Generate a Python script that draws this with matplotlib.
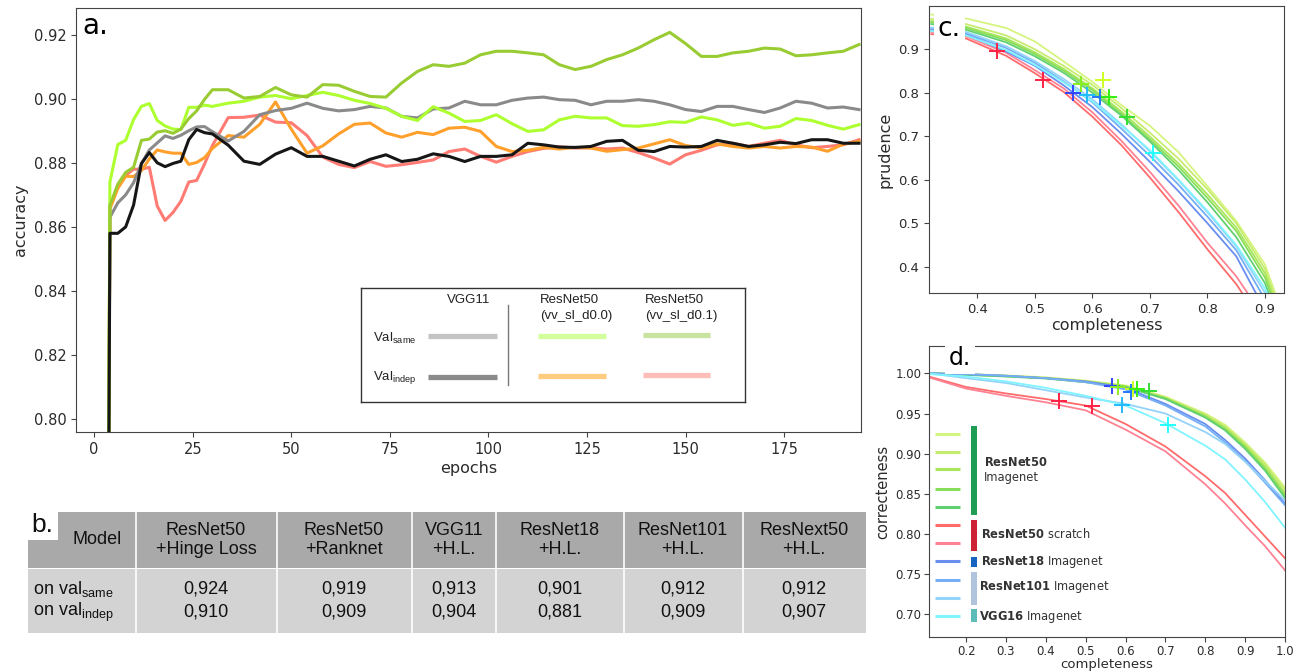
import matplotlib.pyplot as plt
from matplotlib.patches import Rectangle

plt.rcParams['mathtext.fontset'] = 'custom'
plt.rcParams['mathtext.rm'] = 'Liberation Sans'
plt.rcParams['mathtext.bf'] = 'DejaVu Sans:bold'
plt.rcParams['axes.edgecolor'] = '#444444'
plt.rcParams['xtick.color'] = '#444444'
plt.rcParams['ytick.color'] = '#444444'
plt.rcParams['xtick.labelcolor'] = '#2b2b2b'
plt.rcParams['ytick.labelcolor'] = '#2b2b2b'
plt.rcParams['axes.labelcolor'] = '#2b2b2b'

# ---------------- panel a: accuracy per epoch ----------------
epochs = [3, 4] + list(range(6, 31, 2)) + list(range(34, 195, 4))

vgg_same = [0.60,
            0.863, 0.8675, 0.870, 0.8738, 0.8797, 0.884, 0.8862, 0.8884, 0.8876, 0.8886, 0.890, 0.8912, 0.8913, 0.8897,
            0.8868, 0.8898, 0.895, 0.8963, 0.897, 0.8986, 0.897, 0.8962, 0.8966, 0.8976, 0.8971, 0.8945, 0.894, 0.8968, 0.8971,
            0.8992, 0.8981, 0.8981, 0.8995, 0.9002, 0.9005, 0.8997, 0.8995, 0.8981, 0.8992, 0.8992, 0.8997, 0.8992,
            0.8981, 0.8966, 0.896, 0.8976, 0.8976, 0.8966, 0.8957, 0.8971, 0.8992, 0.8986, 0.8971, 0.8974, 0.8966]
vgg_indep = [0.60,
             0.858, 0.858, 0.860, 0.8668, 0.8798, 0.8832, 0.880, 0.8788, 0.8798, 0.8805, 0.8872, 0.8904, 0.8894, 0.889,
             0.8855, 0.8805, 0.8795, 0.8827, 0.8847, 0.882, 0.882, 0.8805, 0.879, 0.8811, 0.8825, 0.8804, 0.8811, 0.8828, 0.882,
             0.8804, 0.882, 0.882, 0.8825, 0.8861, 0.8856, 0.8849, 0.8848, 0.8851, 0.8867, 0.887, 0.8839, 0.8835,
             0.8851, 0.8849, 0.8851, 0.887, 0.8861, 0.8851, 0.8856, 0.8864, 0.886, 0.8872, 0.8872, 0.8861, 0.8861]
r50_d00_same = [0.60,
                0.874, 0.8857, 0.887, 0.8935, 0.8976, 0.8985, 0.8932, 0.8915, 0.8905, 0.8904, 0.8973, 0.8973, 0.898, 0.8976,
                0.8986, 0.8992, 0.9005, 0.901, 0.900, 0.901, 0.902, 0.901, 0.8995, 0.8985, 0.897, 0.8945, 0.8932, 0.8975, 0.8955,
                0.8929, 0.8932, 0.895, 0.8922, 0.8898, 0.8903, 0.8934, 0.8945, 0.894, 0.894, 0.8916, 0.8914, 0.8919,
                0.8928, 0.8926, 0.8943, 0.8934, 0.8917, 0.8924, 0.8908, 0.8914, 0.8938, 0.8932, 0.8917, 0.8905, 0.8919]
r50_d01_same = [0.60,
                0.8667, 0.8733, 0.877, 0.8786, 0.887, 0.8874, 0.8896, 0.890, 0.8892, 0.8905, 0.8938, 0.8962, 0.8998, 0.9028,
                0.9028, 0.9002, 0.9007, 0.9035, 0.9012, 0.9005, 0.9044, 0.9042, 0.9023, 0.9007, 0.9005, 0.9049, 0.9085, 0.9106, 0.9101,
                0.9111, 0.9137, 0.9148, 0.9148, 0.9143, 0.9137, 0.9106, 0.9091, 0.9101, 0.9122, 0.9137, 0.9158, 0.9184,
                0.9207, 0.9172, 0.9132, 0.9132, 0.9143, 0.9148, 0.9158, 0.9155, 0.9134, 0.9137, 0.9143, 0.9148, 0.9169]
r50_d00_indep = [0.60,
                 0.8656, 0.872, 0.8758, 0.8757, 0.8776, 0.8812, 0.884, 0.8834, 0.883, 0.883, 0.8795, 0.8801, 0.8816, 0.8845,
                 0.8885, 0.888, 0.892, 0.899, 0.8905, 0.883, 0.8853, 0.889, 0.892, 0.8924, 0.8893, 0.888, 0.8895, 0.8888, 0.8908,
                 0.8911, 0.8898, 0.8851, 0.8835, 0.8839, 0.8848, 0.8843, 0.8848, 0.8846, 0.8836, 0.8841, 0.8846, 0.8859,
                 0.8872, 0.8854, 0.8846, 0.8859, 0.8851, 0.8846, 0.8851, 0.8846, 0.8851, 0.8849, 0.8836, 0.8858, 0.8867]
r50_d01_indep = [0.60,
                 0.8662, 0.873, 0.8761, 0.878, 0.878, 0.8786, 0.8665, 0.862, 0.8645, 0.868, 0.874, 0.8745, 0.8796, 0.8854,
                 0.8941, 0.8942, 0.8949, 0.8927, 0.8925, 0.8885, 0.8818, 0.8795, 0.8785, 0.8804, 0.8789, 0.8794, 0.8801, 0.8809, 0.8835,
                 0.8843, 0.882, 0.8802, 0.882, 0.8835, 0.8845, 0.885, 0.8846, 0.8847, 0.8843, 0.8846, 0.8832, 0.8815,
                 0.8796, 0.8825, 0.8839, 0.8856, 0.8861, 0.8851, 0.8861, 0.887, 0.8856, 0.8847, 0.8851, 0.8856, 0.8872]

# ---------------- panel b: table ----------------
models = ['ResNet50\n+Hinge Loss', 'ResNet50\n+Ranknet', 'VGG11\n+H.L.', 'ResNet18\n+H.L.',
          'ResNet101\n+H.L.', 'ResNext50\n+H.L.']
acc_same = [0.924, 0.919, 0.913, 0.901, 0.912, 0.912]
acc_indep = [0.910, 0.909, 0.904, 0.881, 0.909, 0.907]

# ---------------- panel c: prudence vs completeness ----------------
comp_c = [0.32, 0.38, 0.45, 0.5, 0.55, 0.6, 0.65, 0.7, 0.75, 0.8, 0.85, 0.9, 0.95]
c_r50_imagenet = [
    [0.98, 0.971, 0.949, 0.918, 0.872, 0.825, 0.772, 0.724, 0.663, 0.585, 0.505, 0.405, 0.22],
    [0.97, 0.958, 0.932, 0.900, 0.862, 0.818, 0.765, 0.708, 0.648, 0.578, 0.500, 0.395, 0.21],
    [0.965, 0.952, 0.925, 0.893, 0.855, 0.810, 0.757, 0.699, 0.637, 0.566, 0.490, 0.385, 0.20],
    [0.962, 0.949, 0.921, 0.889, 0.851, 0.806, 0.752, 0.693, 0.630, 0.558, 0.482, 0.375, 0.19],
    [0.958, 0.945, 0.916, 0.884, 0.846, 0.800, 0.748, 0.688, 0.622, 0.548, 0.468, 0.362, 0.18]]
c_r50_scratch = [
    [0.935, 0.925, 0.885, 0.845, 0.802, 0.745, 0.680, 0.605, 0.525, 0.440, 0.360, 0.260, 0.15],
    [0.94, 0.930, 0.892, 0.852, 0.810, 0.755, 0.690, 0.618, 0.540, 0.455, 0.378, 0.280, 0.16]]
c_r18_imagenet = [
    [0.945, 0.935, 0.895, 0.862, 0.817, 0.767, 0.706, 0.641, 0.573, 0.500, 0.424, 0.300, 0.18]]
c_r101_imagenet = [
    [0.948, 0.937, 0.903, 0.869, 0.826, 0.778, 0.718, 0.655, 0.588, 0.515, 0.438, 0.325, 0.20],
    [0.95, 0.940, 0.907, 0.873, 0.832, 0.785, 0.728, 0.665, 0.598, 0.525, 0.447, 0.340, 0.20]]
c_vgg16_imagenet = [
    [0.942, 0.932, 0.898, 0.864, 0.824, 0.780, 0.725, 0.668, 0.600, 0.528, 0.450, 0.350, 0.20]]

# ---------------- panel d: correctness vs completeness ----------------
comp_d = [0.107, 0.2, 0.3, 0.4, 0.5, 0.6, 0.7, 0.8, 0.85, 0.9, 0.95, 1.0]
d_r50_imagenet = [
    [1.0, 0.999, 0.9975, 0.995, 0.991, 0.985, 0.971, 0.950, 0.936, 0.914, 0.889, 0.858],
    [1.0, 0.999, 0.997, 0.9945, 0.990, 0.984, 0.970, 0.949, 0.934, 0.912, 0.887, 0.855],
    [1.0, 0.9985, 0.9965, 0.994, 0.990, 0.984, 0.969, 0.947, 0.932, 0.910, 0.884, 0.851],
    [1.0, 0.9985, 0.9965, 0.994, 0.989, 0.983, 0.969, 0.946, 0.930, 0.908, 0.881, 0.848],
    [1.0, 0.998, 0.996, 0.9935, 0.989, 0.983, 0.968, 0.945, 0.929, 0.906, 0.879, 0.845]]
d_r50_scratch = [
    [0.996, 0.983, 0.975, 0.968, 0.960, 0.937, 0.909, 0.872, 0.851, 0.824, 0.797, 0.770],
    [0.995, 0.981, 0.972, 0.964, 0.954, 0.930, 0.903, 0.862, 0.838, 0.811, 0.785, 0.755]]
d_r18_imagenet = [
    [1.0, 0.999, 0.997, 0.994, 0.990, 0.982, 0.962, 0.937, 0.917, 0.894, 0.867, 0.838]]
d_r101_imagenet = [
    [1.0, 0.999, 0.997, 0.994, 0.989, 0.980, 0.960, 0.934, 0.914, 0.891, 0.864, 0.836],
    [1.0, 0.994, 0.988, 0.979, 0.970, 0.962, 0.950, 0.927, 0.912, 0.890, 0.866, 0.842]]
d_vgg16_imagenet = [
    [0.999, 0.996, 0.990, 0.982, 0.972, 0.960, 0.938, 0.910, 0.893, 0.868, 0.840, 0.808]]

# chosen operating points ('+' marks), shared by c and d
op_comp = [0.434, 0.515, 0.566, 0.581, 0.591, 0.613, 0.618, 0.628, 0.660, 0.706]
op_prud = [0.895, 0.829, 0.800, 0.820, 0.795, 0.790, 0.829, 0.791, 0.745, 0.661]
op_corr = [0.965, 0.959, 0.984, 0.983, 0.961, 0.977, 0.980, 0.980, 0.978, 0.936]
op_colors = ['#ff2244', '#ff2244', '#3344ff', '#88ee22', '#22bbff', '#2277ff',
             '#ccff22', '#33ee11', '#33dd33', '#22ffff']

green_cols = ['#d6f57e', '#c6ec6e', '#a8e65a', '#88de58', '#60d070']
red_cols = ['#ff6b6b', '#ff8294']
r18_cols = ['#6a8ef0']
r101_cols = ['#74aef5', '#93d3fa']
vgg16_cols = ['#80f4ff']

W, H = 1301, 671
fig = plt.figure(figsize=(W / 100, H / 100), dpi=100)


def px_axes(left, top, right, bottom):
    # axes placed by its pixel box on the canvas
    return fig.add_axes([left / W, 1 - bottom / H, (right - left) / W, (bottom - top) / H])


# ---- panel a ----
ax = px_axes(76, 8, 861, 432)
for vals, col in [(r50_d01_indep, '#ff7b73'), (r50_d00_indep, '#ffa02c'), (vgg_same, '#8a8a8a'),
                  (r50_d00_same, '#adff2f'), (r50_d01_same, '#99cc33'), (vgg_indep, '#161616')]:
    ax.plot(epochs, vals, color=col, lw=2.2)
ax.set_xlim(-4.6, 194.5)
ax.set_ylim(0.796, 0.9283)
ax.set_xticks([0, 25, 50, 75, 100, 125, 150, 175])
ax.set_yticks([0.80, 0.82, 0.84, 0.86, 0.88, 0.90, 0.92])
ax.yaxis.set_major_formatter('{x:.2f}')
ax.tick_params(labelsize=10.5)
ax.set_xlabel('epochs', fontsize=11.5, labelpad=3)
ax.set_ylabel('accuracy', fontsize=11.5)
ax.text(0.008, 0.99, 'a.', transform=ax.transAxes, fontsize=20, va='top', ha='left')

# legend box of panel a
lg = px_axes(361, 288, 745, 402)
lg.set_xlim(361, 745)
lg.set_ylim(402, 288)
lg.set_xticks([])
lg.set_yticks([])
for sp in lg.spines.values():
    sp.set_color('#333333')
    sp.set_linewidth(1.0)
tf = dict(family='Liberation Sans', fontsize=9.5, color='#222222')
lg.text(469, 300, 'VGG11', ha='center', va='center', **tf)
lg.text(540, 300, 'ResNet50', ha='left', va='center', **tf)
lg.text(540, 316, '(vv_sl_d0.0)', ha='left', va='center', **tf)
lg.text(645, 300, 'ResNet50', ha='left', va='center', **tf)
lg.text(645, 316, '(vv_sl_d0.1)', ha='left', va='center', **tf)
lg.text(373, 338, r'Val$_{\mathrm{same}}$', ha='left', va='center', **tf)
lg.text(373, 378, r'Val$_{\mathrm{indep}}$', ha='left', va='center', **tf)
for x0, x1, y, col in [(428, 497, 336, '#c4c4c4'), (428, 497, 377, '#8a8a8a'),
                       (538, 606, 336, '#d2ff9c'), (538, 606, 376, '#ffcc80'),
                       (643, 710, 335, '#c9e3a0'), (643, 710, 375, '#ffbdb8')]:
    lg.plot([x0, x1], [y, y], color=col, lw=3.8, solid_capstyle='butt')
lg.plot([508, 508], [305, 385], color='#777777', lw=1)

# ---- panel b: table ----
tb = px_axes(28, 505, 866, 634)
tb.set_xlim(28, 866)
tb.set_ylim(634, 505)
tb.axis('off')
tb.add_patch(Rectangle((28, 512), 838, 56, facecolor='#a9a9a9', edgecolor='none'))
tb.add_patch(Rectangle((28, 569), 838, 64, facecolor='#d3d3d3', edgecolor='none'))
edges = [136, 277, 412, 496, 624, 743]
centers = [206, 344, 454, 560, 683, 804]
for x in edges:
    tb.plot([x, x], [512, 633], color='white', lw=1.2)
tb.add_patch(Rectangle((28, 505), 30, 35, facecolor='white', edgecolor='none'))
tbf = dict(family='Liberation Sans', fontsize=13, color='#111111')
tb.text(31, 525, 'b.', fontsize=19, va='center', ha='left', family='Liberation Sans', color='#111111')
tb.text(97, 540, 'Model', ha='center', va='center', **tbf)
for cx, name, vs, vi in zip(centers, models, acc_same, acc_indep):
    tb.text(cx, 540, name, ha='center', va='center', linespacing=1.2, **tbf)
    tb.text(cx, 589, f'{vs:.3f}'.replace('.', ','), ha='center', va='center', **tbf)
    tb.text(cx, 612, f'{vi:.3f}'.replace('.', ','), ha='center', va='center', **tbf)
tb.text(33, 589, r'on val$_{\mathrm{same}}$', ha='left', va='center', **tbf)
tb.text(33, 612, r'on val$_{\mathrm{indep}}$', ha='left', va='center', **tbf)

# ---- panel c ----
groups_c = [(c_r50_imagenet, green_cols), (c_r50_scratch, red_cols), (c_r18_imagenet, r18_cols),
            (c_r101_imagenet, r101_cols), (c_vgg16_imagenet, vgg16_cols)]
axc = px_axes(929, 6, 1284, 293)
for runs, cols in groups_c:
    for vals, col in zip(runs, cols):
        axc.plot(comp_c, vals, color=col, lw=1.3)
for x, y, col in zip(op_comp, op_prud, op_colors):
    axc.plot(x, y, '+', color=col, ms=12, mew=1.4)
axc.set_xlim(0.316, 0.933)
axc.set_ylim(0.3396, 0.9995)
axc.set_xticks([0.4, 0.5, 0.6, 0.7, 0.8, 0.9])
axc.set_yticks([0.4, 0.5, 0.6, 0.7, 0.8, 0.9])
axc.tick_params(labelsize=9.5)
axc.set_xlabel('completeness', fontsize=11.5, labelpad=2)
axc.set_ylabel('prudence', fontsize=11.5)
axc.text(0.025, 0.895, 'c.', transform=axc.transAxes, fontsize=19, va='baseline', ha='left',
         bbox=dict(fc='white', ec='none', pad=3))

# ---- panel d ----
groups_d = [(d_r50_imagenet, green_cols), (d_r50_scratch, red_cols), (d_r18_imagenet, r18_cols),
            (d_r101_imagenet, r101_cols), (d_vgg16_imagenet, vgg16_cols)]
axd = px_axes(929, 346, 1285, 637)
for runs, cols in groups_d:
    for vals, col in zip(runs, cols):
        axd.plot(comp_d, vals, color=col, lw=1.3)
for x, y, col in zip(op_comp, op_corr, op_colors):
    axd.plot(x, y, '+', color=col, ms=12, mew=1.4)
axd.set_xlim(0.107, 1.0)
axd.set_ylim(0.672, 1.034)
axd.set_xticks([0.2, 0.3, 0.4, 0.5, 0.6, 0.7, 0.8, 0.9, 1.0])
axd.set_yticks([0.70, 0.75, 0.80, 0.85, 0.90, 0.95, 1.00])
axd.yaxis.set_major_formatter('{x:.2f}')
axd.tick_params(labelsize=8.5, pad=2)
axd.set_xlabel('completeness', fontsize=9.5, labelpad=0)
axd.set_ylabel('correcteness', fontsize=10.5)
axd.text(0.056, 0.935, 'd.', transform=axd.transAxes, fontsize=17, va='baseline', ha='left',
         bbox=dict(fc='white', ec='none', pad=3))

# legend of panel d
ld = px_axes(931, 424, 1100, 626)
ld.set_xlim(931, 1100)
ld.set_ylim(626, 424)
ld.axis('off')
ld.add_patch(Rectangle((931, 424), 169, 202, facecolor='white', edgecolor='none'))
leg_cols = green_cols + red_cols + r18_cols + r101_cols + vgg16_cols
leg_y = [434, 452, 469, 489, 507, 525, 543, 561, 580, 598, 616]
for y, col in zip(leg_y, leg_cols):
    ld.plot([935, 960], [y, y], color=col, lw=2.2, solid_capstyle='butt')
for y0, y1, col in [(426, 515, '#1f9d55'), (520, 551, '#cc2233'), (557, 567, '#1565c0'),
                    (572, 605, '#b0c4de'), (609, 622, '#5bbcb8')]:
    ld.add_patch(Rectangle((971, y0), 6, y1 - y0, facecolor=col, edgecolor='none'))
lf = dict(fontsize=8.3, color='#333333', ha='left', va='center')
ld.text(984, 463, r'$\mathbf{ResNet50}$', **lf)
ld.text(984, 478, 'Imagenet', **lf)
ld.text(981, 534, r'$\mathbf{ResNet50}$ scratch', **lf)
ld.text(981, 562, r'$\mathbf{ResNet18}$ Imagenet', **lf)
ld.text(979, 587, r'$\mathbf{ResNet101}$ Imagenet', **lf)
ld.text(979, 617, r'$\mathbf{VGG16}$ Imagenet', **lf)

plt.savefig('out.png', dpi=100)
